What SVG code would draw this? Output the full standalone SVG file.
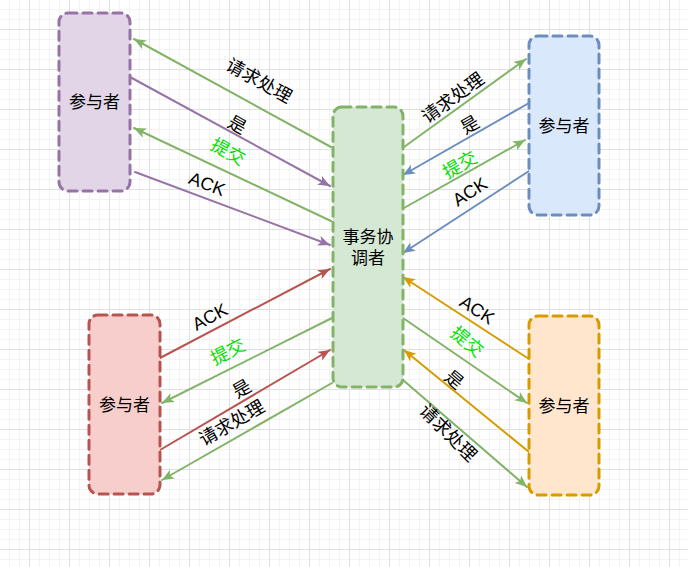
<svg xmlns="http://www.w3.org/2000/svg" width="688" height="567" viewBox="0 0 688 567">
<defs>
<pattern id="gmin" x="9" y="9" width="10" height="10" patternUnits="userSpaceOnUse"><path d="M0.5 0V10M0 0.5H10" stroke="#f3f3f3" stroke-width="1" fill="none"/></pattern>
<pattern id="gmaj" x="29" y="29" width="40" height="40" patternUnits="userSpaceOnUse"><path d="M0.5 0V40M0 0.5H40" stroke="#e0e0e0" stroke-width="1" fill="none"/></pattern>
<marker id="aG" markerUnits="userSpaceOnUse" markerWidth="13" markerHeight="11" refX="12" refY="5" orient="auto"><path d="M0,0 L12,5 L0,10 L3,5 Z" fill="#82b366"/></marker>
<marker id="aP" markerUnits="userSpaceOnUse" markerWidth="13" markerHeight="11" refX="12" refY="5" orient="auto"><path d="M0,0 L12,5 L0,10 L3,5 Z" fill="#9673a6"/></marker>
<marker id="aB" markerUnits="userSpaceOnUse" markerWidth="13" markerHeight="11" refX="12" refY="5" orient="auto"><path d="M0,0 L12,5 L0,10 L3,5 Z" fill="#6c8ebf"/></marker>
<marker id="aR" markerUnits="userSpaceOnUse" markerWidth="13" markerHeight="11" refX="12" refY="5" orient="auto"><path d="M0,0 L12,5 L0,10 L3,5 Z" fill="#b85450"/></marker>
<marker id="aO" markerUnits="userSpaceOnUse" markerWidth="13" markerHeight="11" refX="12" refY="5" orient="auto"><path d="M0,0 L12,5 L0,10 L3,5 Z" fill="#d79b00"/></marker>
</defs>
<style>
.node{stroke-width:3;stroke-dasharray:9 6;stroke-linecap:round}
.t{font-family:"Liberation Sans","Noto Sans CJK SC",sans-serif;font-size:17px;fill:#000;text-anchor:middle;dominant-baseline:central}
.l{font-family:"Liberation Sans","Noto Sans CJK SC",sans-serif;font-size:18px;fill:#000;text-anchor:middle;dominant-baseline:central}
.hi{fill:#00e000}
.e{fill:none;stroke-width:2;stroke-linecap:round}
.g{stroke:#82b366}.p{stroke:#9673a6}.b{stroke:#6c8ebf}.r{stroke:#b85450}.o{stroke:#d79b00}
</style>
<rect width="688" height="567" fill="#fff"/>
<rect width="688" height="567" fill="url(#gmin)"/>
<rect width="688" height="567" fill="url(#gmaj)"/>

<g id="connectors">
<line class="e g" x1="331" y1="147" x2="134" y2="39" marker-end="url(#aG)"/>
<line class="e p" x1="130" y1="77" x2="330" y2="186" marker-end="url(#aP)"/>
<line class="e g" x1="331" y1="221" x2="134" y2="128" marker-end="url(#aG)"/>
<line class="e p" x1="135" y1="172" x2="330" y2="245" marker-end="url(#aP)"/>

<line class="e g" x1="404" y1="147" x2="526" y2="59" marker-end="url(#aG)"/>
<line class="e b" x1="529" y1="103" x2="403" y2="175" marker-end="url(#aB)"/>
<line class="e g" x1="404" y1="208" x2="525" y2="140" marker-end="url(#aG)"/>
<line class="e b" x1="529" y1="171" x2="403" y2="253" marker-end="url(#aB)"/>

<line class="e r" x1="160" y1="358" x2="330" y2="269" marker-end="url(#aR)"/>
<line class="e g" x1="332" y1="318" x2="162" y2="403" marker-end="url(#aG)"/>
<line class="e r" x1="160" y1="450" x2="330" y2="350" marker-end="url(#aR)"/>
<line class="e g" x1="332" y1="383" x2="162" y2="480" marker-end="url(#aG)"/>

<line class="e o" x1="529" y1="359" x2="403" y2="277" marker-end="url(#aO)"/>
<line class="e g" x1="403" y1="318" x2="527" y2="403" marker-end="url(#aG)"/>
<line class="e o" x1="529" y1="452" x2="404" y2="350" marker-end="url(#aO)"/>
<line class="e g" x1="403" y1="380" x2="527" y2="487" marker-end="url(#aG)"/>

<text class="l" transform="translate(259,81) rotate(29)">请求处理</text>
<text class="l" transform="translate(237,125) rotate(29)">是</text>
<text class="l hi" transform="translate(228,152) rotate(29)">提交</text>
<text class="l" transform="translate(207,184) rotate(21)">ACK</text>

<text class="l" transform="translate(453,98) rotate(-36)">请求处理</text>
<text class="l" transform="translate(470,125) rotate(-30)">是</text>
<text class="l hi" transform="translate(460,165) rotate(-30)">提交</text>
<text class="l" transform="translate(470,192) rotate(-33)">ACK</text>

<text class="l" transform="translate(210,317) rotate(-28)">ACK</text>
<text class="l hi" transform="translate(228,352) rotate(-27)">提交</text>
<text class="l" transform="translate(242,389) rotate(-30)">是</text>
<text class="l" transform="translate(232,423) rotate(-30)">请求处理</text>

<text class="l" transform="translate(477,310) rotate(33)">ACK</text>
<text class="l hi" transform="translate(467,342) rotate(40)">提交</text>
<text class="l" transform="translate(454,380) rotate(40)">是</text>
<text class="l" transform="translate(448,433) rotate(45)">请求处理</text>
</g>

<g id="p-topleft"><rect class="node" x="59" y="13" width="71" height="178" rx="9" fill="#e1d5e7" stroke="#9673a6"/><text class="t" x="94.5" y="102">参与者</text></g>
<g id="coordinator"><rect class="node" x="333" y="107" width="70" height="280" rx="9" fill="#d5e8d4" stroke="#82b366"/><text class="t" x="368" y="237">事务协</text><text class="t" x="368" y="258">调者</text></g>
<g id="p-topright"><rect class="node" x="529" y="36" width="70" height="179" rx="9" fill="#dae8fc" stroke="#6c8ebf"/><text class="t" x="564" y="126">参与者</text></g>
<g id="p-bottomleft"><rect class="node" x="89" y="315" width="71" height="179" rx="9" fill="#f8cecc" stroke="#b85450"/><text class="t" x="124.5" y="405">参与者</text></g>
<g id="p-bottomright"><rect class="node" x="529" y="316" width="70" height="179" rx="9" fill="#ffe6cc" stroke="#d79b00"/><text class="t" x="564" y="406">参与者</text></g>
</svg>
